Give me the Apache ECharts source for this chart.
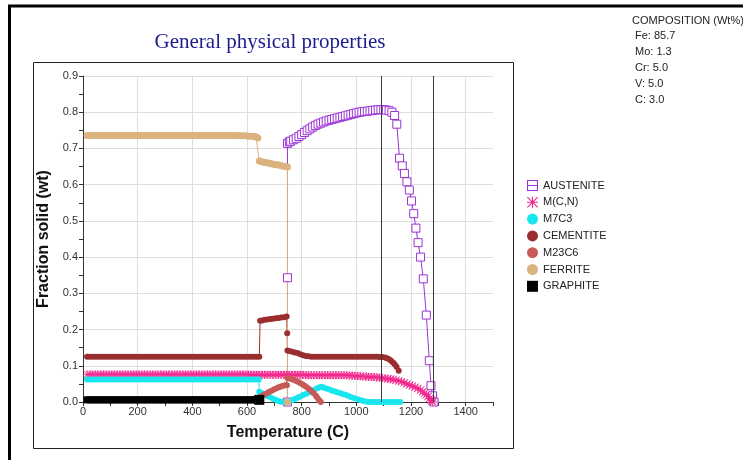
<!DOCTYPE html>
<html>
<head>
<meta charset="utf-8">
<script src="https://cdn.jsdelivr.net/npm/echarts@6/dist/echarts.min.js"></script>
<style>
  html, body { margin: 0; padding: 0; background: #fff; }
  #chart { width: 743px; height: 460px; }
</style>
</head>
<body>
<div id="chart"></div>
<script>
// Phase fractions (wt) against temperature (C)
const austenite = [
  [748, 0], [748, 0.343], [748, 0.714], [755, 0.718], [760, 0.72], [770, 0.724], [780, 0.728],
  [790, 0.733], [800, 0.738], [810, 0.744], [820, 0.749], [830, 0.754], [840, 0.759],
  [850, 0.763], [860, 0.767], [870, 0.77], [880, 0.773], [890, 0.776], [900, 0.778],
  [910, 0.78], [920, 0.782], [930, 0.784], [940, 0.786], [950, 0.788], [960, 0.79],
  [970, 0.792], [980, 0.794], [990, 0.796], [1000, 0.798], [1010, 0.8], [1020, 0.801],
  [1030, 0.802], [1040, 0.803], [1050, 0.804], [1060, 0.805], [1070, 0.806], [1080, 0.807],
  [1090, 0.807], [1100, 0.807], [1110, 0.806], [1120, 0.804], [1130, 0.8], [1140, 0.791],
  [1148, 0.767], [1158, 0.673], [1168, 0.652], [1176, 0.631], [1185, 0.608], [1194, 0.585],
  [1202, 0.555], [1210, 0.52], [1218, 0.48], [1226, 0.44], [1235, 0.4], [1245, 0.34],
  [1256, 0.24], [1267, 0.114], [1273, 0.045], [1279, 0.017], [1284, 0]
];
const mcn = [
  [15, 0.076], [25, 0.076], [35, 0.076], [45, 0.076], [55, 0.076], [65, 0.076], [75, 0.076],
  [85, 0.076], [95, 0.076], [105, 0.076], [115, 0.076], [125, 0.076], [135, 0.076],
  [145, 0.076], [155, 0.076], [165, 0.076], [175, 0.076], [185, 0.076], [195, 0.076],
  [205, 0.076], [215, 0.076], [225, 0.076], [235, 0.076], [245, 0.076], [255, 0.076],
  [265, 0.076], [275, 0.076], [285, 0.076], [295, 0.076], [305, 0.076], [315, 0.076],
  [325, 0.076], [335, 0.076], [345, 0.076], [355, 0.076], [365, 0.076], [375, 0.076],
  [385, 0.076], [395, 0.076], [405, 0.076], [415, 0.076], [425, 0.076], [435, 0.076],
  [445, 0.076], [455, 0.076], [465, 0.076], [475, 0.076], [485, 0.076], [495, 0.076],
  [505, 0.076], [515, 0.076], [525, 0.076], [535, 0.076], [545, 0.076], [555, 0.076],
  [565, 0.076], [575, 0.076], [585, 0.076], [595, 0.076], [605, 0.076], [615, 0.075],
  [625, 0.075], [635, 0.075], [645, 0.075], [655, 0.075], [665, 0.075], [675, 0.075],
  [685, 0.075], [695, 0.075], [705, 0.075], [715, 0.075], [725, 0.075], [735, 0.075],
  [745, 0.075], [755, 0.075], [765, 0.075], [775, 0.075], [785, 0.075], [795, 0.075],
  [805, 0.075], [815, 0.074], [825, 0.074], [835, 0.074], [845, 0.074], [855, 0.074],
  [865, 0.074], [875, 0.074], [885, 0.074], [895, 0.074], [905, 0.074], [915, 0.074],
  [925, 0.074], [935, 0.074], [945, 0.074], [955, 0.074], [965, 0.074], [975, 0.073],
  [985, 0.073], [995, 0.072], [1005, 0.072], [1015, 0.071], [1025, 0.071], [1035, 0.07],
  [1045, 0.07], [1055, 0.069], [1065, 0.069], [1075, 0.068], [1085, 0.067], [1095, 0.066],
  [1105, 0.065], [1115, 0.064], [1125, 0.063], [1135, 0.062], [1145, 0.06], [1155, 0.058],
  [1165, 0.056], [1175, 0.053], [1185, 0.05], [1195, 0.047], [1205, 0.044], [1215, 0.041],
  [1225, 0.037], [1235, 0.033], [1243, 0.028], [1250, 0.024], [1256, 0.02], [1262, 0.015],
  [1268, 0.01], [1273, 0.006], [1277, 0.003], [1280, 0]
];
const m7c3 = [
  [15, 0.062], [25, 0.062], [35, 0.062], [45, 0.062], [55, 0.062], [65, 0.062], [75, 0.062],
  [85, 0.062], [95, 0.062], [105, 0.062], [115, 0.062], [125, 0.062], [135, 0.062],
  [145, 0.062], [155, 0.062], [165, 0.062], [175, 0.062], [185, 0.062], [195, 0.062],
  [205, 0.062], [215, 0.062], [225, 0.062], [235, 0.062], [245, 0.062], [255, 0.062],
  [265, 0.062], [275, 0.062], [285, 0.062], [295, 0.062], [305, 0.062], [315, 0.062],
  [325, 0.062], [335, 0.062], [345, 0.062], [355, 0.062], [365, 0.062], [375, 0.062],
  [385, 0.062], [395, 0.062], [405, 0.062], [415, 0.062], [425, 0.062], [435, 0.062],
  [445, 0.062], [455, 0.062], [465, 0.062], [475, 0.062], [485, 0.062], [495, 0.062],
  [505, 0.062], [515, 0.062], [525, 0.062], [535, 0.062], [545, 0.062], [555, 0.062],
  [565, 0.062], [575, 0.062], [585, 0.062], [595, 0.062], [605, 0.062], [615, 0.062],
  [625, 0.062], [635, 0.062], [643, 0.062], [645, 0.028], [655, 0.024], [665, 0.02],
  [675, 0.016], [685, 0.013], [695, 0.009], [705, 0.006], [715, 0.003], [725, 0.001],
  [735, 0], [745, 0], [755, 0.002], [765, 0.005], [775, 0.008], [785, 0.012], [795, 0.015],
  [805, 0.019], [815, 0.022], [825, 0.026], [835, 0.03], [845, 0.033], [855, 0.037],
  [865, 0.04], [872, 0.042], [880, 0.04], [890, 0.037], [900, 0.035], [910, 0.032],
  [920, 0.03], [930, 0.027], [940, 0.025], [950, 0.022], [960, 0.02], [970, 0.017],
  [980, 0.014], [990, 0.011], [1000, 0.009], [1010, 0.006], [1020, 0.004], [1030, 0.002],
  [1040, 0.001], [1050, 0], [1060, 0], [1070, 0], [1080, 0], [1090, 0], [1100, 0],
  [1110, 0], [1120, 0], [1130, 0], [1140, 0], [1150, 0], [1160, 0]
];
const cementite = [
  [15, 0.125], [25, 0.125], [35, 0.125], [45, 0.125], [55, 0.125], [65, 0.125], [75, 0.125],
  [85, 0.125], [95, 0.125], [105, 0.125], [115, 0.125], [125, 0.125], [135, 0.125],
  [145, 0.125], [155, 0.125], [165, 0.125], [175, 0.125], [185, 0.125], [195, 0.125],
  [205, 0.125], [215, 0.125], [225, 0.125], [235, 0.125], [245, 0.125], [255, 0.125],
  [265, 0.125], [275, 0.125], [285, 0.125], [295, 0.125], [305, 0.125], [315, 0.125],
  [325, 0.125], [335, 0.125], [345, 0.125], [355, 0.125], [365, 0.125], [375, 0.125],
  [385, 0.125], [395, 0.125], [405, 0.125], [415, 0.125], [425, 0.125], [435, 0.125],
  [445, 0.125], [455, 0.125], [465, 0.125], [475, 0.125], [485, 0.125], [495, 0.125],
  [505, 0.125], [515, 0.125], [525, 0.125], [535, 0.125], [545, 0.125], [555, 0.125],
  [565, 0.125], [575, 0.125], [585, 0.125], [595, 0.125], [605, 0.125], [615, 0.125],
  [625, 0.125], [635, 0.125], [645, 0.125], [648, 0.224], [655, 0.225], [665, 0.227],
  [675, 0.228], [685, 0.229], [695, 0.23], [705, 0.231], [715, 0.232], [725, 0.233],
  [735, 0.234], [745, 0.236], [747, 0.19], [748, 0.142], [755, 0.141], [765, 0.139],
  [775, 0.137], [785, 0.135], [795, 0.132], [805, 0.129], [815, 0.127], [825, 0.126],
  [835, 0.125], [845, 0.125], [855, 0.125], [865, 0.125], [875, 0.125], [885, 0.125],
  [895, 0.125], [905, 0.125], [915, 0.125], [925, 0.125], [935, 0.125], [945, 0.125],
  [955, 0.125], [965, 0.125], [975, 0.125], [985, 0.125], [995, 0.125], [1005, 0.125],
  [1015, 0.125], [1025, 0.125], [1035, 0.125], [1045, 0.125], [1055, 0.125], [1065, 0.125],
  [1075, 0.125], [1085, 0.124], [1095, 0.124], [1105, 0.123], [1112, 0.121], [1120, 0.118],
  [1127, 0.114], [1134, 0.109], [1140, 0.104], [1147, 0.097], [1155, 0.086]
];
const m23c6 = [
  [646, 0.012], [652, 0.015], [660, 0.019], [668, 0.022], [676, 0.026], [684, 0.029],
  [692, 0.032], [700, 0.035], [708, 0.038], [716, 0.041], [724, 0.043], [732, 0.045],
  [740, 0.046], [746, 0.046], [748, 0.066], [756, 0.065], [764, 0.063], [772, 0.061],
  [780, 0.058], [788, 0.055], [796, 0.052], [804, 0.048], [812, 0.044], [820, 0.04],
  [828, 0.035], [836, 0.03], [844, 0.024], [852, 0.017], [858, 0.011], [864, 0.005],
  [870, 0]
];
const ferrite = [
  [15, 0.736], [25, 0.736], [35, 0.736], [45, 0.736], [55, 0.736], [65, 0.736], [75, 0.736],
  [85, 0.736], [95, 0.736], [105, 0.736], [115, 0.736], [125, 0.736], [135, 0.736],
  [145, 0.736], [155, 0.736], [165, 0.736], [175, 0.736], [185, 0.736], [195, 0.736],
  [205, 0.736], [215, 0.736], [225, 0.736], [235, 0.736], [245, 0.736], [255, 0.736],
  [265, 0.736], [275, 0.736], [285, 0.736], [295, 0.736], [305, 0.736], [315, 0.736],
  [325, 0.736], [335, 0.736], [345, 0.736], [355, 0.736], [365, 0.736], [375, 0.736],
  [385, 0.736], [395, 0.736], [405, 0.736], [415, 0.736], [425, 0.736], [435, 0.736],
  [445, 0.736], [455, 0.736], [465, 0.736], [475, 0.736], [485, 0.736], [495, 0.736],
  [505, 0.736], [515, 0.736], [525, 0.736], [535, 0.736], [545, 0.736], [555, 0.736],
  [565, 0.736], [575, 0.735], [585, 0.735], [595, 0.735], [605, 0.734], [615, 0.734],
  [625, 0.733], [633, 0.732], [640, 0.729], [645, 0.665], [652, 0.664], [660, 0.662],
  [668, 0.661], [676, 0.66], [684, 0.659], [692, 0.657], [700, 0.656], [708, 0.655],
  [716, 0.654], [724, 0.653], [732, 0.651], [740, 0.65], [748, 0.649], [748, 0]
];
const graphite = [
  [15, 0.006], [25, 0.006], [35, 0.006], [45, 0.006], [55, 0.006], [65, 0.006], [75, 0.006],
  [85, 0.006], [95, 0.006], [105, 0.006], [115, 0.006], [125, 0.006], [135, 0.006],
  [145, 0.006], [155, 0.006], [165, 0.006], [175, 0.006], [185, 0.006], [195, 0.006],
  [205, 0.006], [215, 0.006], [225, 0.006], [235, 0.006], [245, 0.006], [255, 0.006],
  [265, 0.006], [275, 0.006], [285, 0.006], [295, 0.006], [305, 0.006], [315, 0.006],
  [325, 0.006], [335, 0.006], [345, 0.006], [355, 0.006], [365, 0.006], [375, 0.006],
  [385, 0.006], [395, 0.006], [405, 0.006], [415, 0.006], [425, 0.006], [435, 0.006],
  [445, 0.006], [455, 0.006], [465, 0.006], [475, 0.006], [485, 0.006], [495, 0.006],
  [505, 0.006], [515, 0.006], [525, 0.006], [535, 0.006], [545, 0.006], [555, 0.006],
  [565, 0.006], [575, 0.006], [585, 0.006], [595, 0.006], [605, 0.006], [615, 0.006],
  [625, 0.006], [635, 0.006], [645, 0.006]
];

// Vertical reference lines (C)
const markerTemps = [1090, 1280];

const phaseNames = ['AUSTENITE', 'M(C,N)', 'M7C3', 'CEMENTITE', 'M23C6', 'FERRITE', 'GRAPHITE'];
const compositionTitle = 'COMPOSITION (Wt%)';
const compositionLines = ['Fe: 85.7', 'Mo: 1.3', 'Cr: 5.0', 'V: 5.0', 'C: 3.0'];
const chartTitle = 'General physical properties';
const xName = 'Temperature (C)';
const yName = 'Fraction solid (wt)';

const COLORS = {
  austenite: '#9b33d6',
  mcn: '#f0258c',
  m7c3: '#19e6ee',
  cementite: '#9a2e2e',
  m23c6: '#c65a58',
  ferrite: '#dcb27f',
  graphite: '#000000'
};

// Asterisk built from four filled bars, all wound the same way
const STAR = 'path://M9,0H11V20H9Z M0,9H20V11H0Z M1.4,0L20,18.6L18.6,20L0,1.4Z M18.6,0L20,1.4L1.4,20L0,18.6Z';
// Hollow square crossed by its line
const BOX_LINE = 'path://M0,0H20V20H0Z M2,2V18H18V2Z M0,9H20V11H0Z';

const chart = echarts.init(document.getElementById('chart'), null, { renderer: 'canvas' });

const sansFont = '"Liberation Sans", Arial, sans-serif';

function lineSeries(name, data, color, symbol, size, extra) {
  return Object.assign({
    name: name,
    type: 'line',
    data: data,
    symbol: symbol,
    symbolSize: size,
    showAllSymbol: true,
    animation: false,
    lineStyle: { color: color, width: 1 },
    itemStyle: { color: color, borderWidth: 0 },
    emphasis: { disabled: true }
  }, extra || {});
}

const compositionGraphics = [{
  type: 'text', left: 632, top: 15,
  style: { text: compositionTitle, font: '11px ' + sansFont, fill: '#222' }
}].concat(compositionLines.map((t, i) => ({
  type: 'text', left: 635, top: 30 + i * 16,
  style: { text: t, font: '11px ' + sansFont, fill: '#222' }
})));

chart.setOption({
  backgroundColor: '#ffffff',
  animation: false,
  grid: { left: 83, right: 250, top: 76, bottom: 58, containLabel: false },
  xAxis: {
    type: 'value',
    min: 0, max: 1500, interval: 200,
    name: xName,
    nameLocation: 'middle',
    nameGap: 23,
    nameTextStyle: { fontFamily: sansFont, fontSize: 16, fontWeight: 'bold', color: '#111' },
    axisLine: { show: true, lineStyle: { color: '#333', width: 1 } },
    axisTick: { show: true, length: 4, lineStyle: { color: '#333' } },
    minorTick: { show: true, splitNumber: 2, length: 4, lineStyle: { color: '#333' } },
    axisLabel: {
      fontFamily: sansFont, fontSize: 11, color: '#333', margin: 4,
      formatter: v => (v % 200 === 0 ? String(v) : '')
    },
    splitLine: { show: true, showMaxLine: false, lineStyle: { color: '#dedede', width: 1 } }
  },
  yAxis: {
    type: 'value',
    min: 0, max: 0.9, interval: 0.1,
    name: yName,
    nameLocation: 'middle',
    nameGap: 26,
    nameTextStyle: { fontFamily: sansFont, fontSize: 16, fontWeight: 'bold', color: '#111' },
    axisLine: { show: true, lineStyle: { color: '#333', width: 1 } },
    axisTick: { show: true, length: 4, lineStyle: { color: '#333' } },
    minorTick: { show: true, splitNumber: 2, length: 4, lineStyle: { color: '#333' } },
    axisLabel: {
      fontFamily: sansFont, fontSize: 11, color: '#333', margin: 5,
      formatter: v => v.toFixed(1)
    },
    splitLine: { show: true, lineStyle: { color: '#dedede', width: 1 } }
  },
  legend: {
    orient: 'vertical',
    left: 527, top: 180,
    itemWidth: 11, itemHeight: 11, itemGap: 5.8,
    padding: 0,
    selectedMode: false,
    textStyle: { fontFamily: sansFont, fontSize: 11, color: '#222' },
    data: [
      { name: phaseNames[0], icon: BOX_LINE, itemStyle: { color: COLORS.austenite, borderWidth: 0 } },
      { name: phaseNames[1], icon: STAR, itemStyle: { color: COLORS.mcn, borderWidth: 0 } },
      { name: phaseNames[2], icon: 'circle', itemStyle: { color: COLORS.m7c3, borderWidth: 0 } },
      { name: phaseNames[3], icon: 'circle', itemStyle: { color: COLORS.cementite, borderWidth: 0 } },
      { name: phaseNames[4], icon: 'circle', itemStyle: { color: COLORS.m23c6, borderWidth: 0 } },
      { name: phaseNames[5], icon: 'circle', itemStyle: { color: COLORS.ferrite, borderWidth: 0 } },
      { name: phaseNames[6], icon: 'rect', itemStyle: { color: COLORS.graphite, borderWidth: 0 } }
    ]
  },
  graphic: [
    // outer panel border
    { type: 'rect', silent: true, shape: { x: 9.5, y: 6, width: 800, height: 520 },
      style: { fill: 'none', stroke: '#000', lineWidth: 3 } },
    // plot panel border
    { type: 'rect', silent: true, shape: { x: 33.5, y: 62.5, width: 480, height: 386 },
      style: { fill: 'none', stroke: '#222', lineWidth: 1 } },
    { type: 'text', silent: true, x: 270, y: 42,
      style: { text: chartTitle, font: '21px "Liberation Serif", "Times New Roman", serif',
        fill: '#1c1c8e', textAlign: 'center', textVerticalAlign: 'middle' } }
  ].concat(compositionGraphics),
  series: [
    lineSeries(phaseNames[0], austenite, COLORS.austenite, 'rect', 8, {
      itemStyle: { color: '#ffffff', borderColor: COLORS.austenite, borderWidth: 1 },
      markLine: {
        silent: true, symbol: 'none', animation: false,
        label: { show: false },
        lineStyle: { color: '#3a3a3a', width: 1, type: 'solid' },
        data: markerTemps.map(t => ({ xAxis: t }))
      }
    }),
    lineSeries(phaseNames[1], mcn, COLORS.mcn, STAR, 8),
    lineSeries(phaseNames[2], m7c3, COLORS.m7c3, 'circle', 6),
    lineSeries(phaseNames[3], cementite, COLORS.cementite, 'circle', 6),
    lineSeries(phaseNames[4], m23c6, COLORS.m23c6, 'circle', 6),
    lineSeries(phaseNames[5], ferrite, COLORS.ferrite, 'circle', 7),
    lineSeries(phaseNames[6], graphite, COLORS.graphite, 'rect',
      (v, p) => (p.dataIndex === graphite.length - 1 ? 10 : 7))
  ]
});
</script>
</body>
</html>
